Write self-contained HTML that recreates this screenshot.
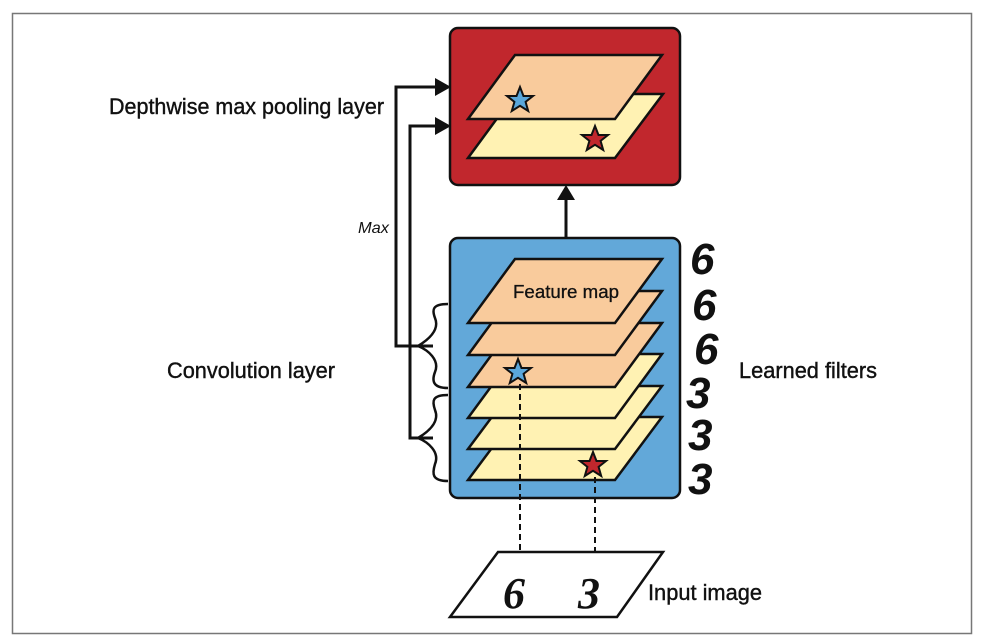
<!DOCTYPE html>
<html><head><meta charset="utf-8"><style>
html,body{margin:0;padding:0;background:#fff;}
svg{display:block;}
text{font-family:"Liberation Sans",sans-serif;fill:#111;}
</style></head><body>
<svg width="984" height="641" viewBox="0 0 984 641" xmlns="http://www.w3.org/2000/svg">
<defs>
<polygon id="star" points="0,-13 3.5,-4 13,-4 5.6,1.9 8.2,11 0,5.8 -8.2,11 -5.6,1.9 -13,-4 -3.5,-4"/>
</defs>
<rect x="12.5" y="13.5" width="959" height="620" fill="none" stroke="#777" stroke-width="1.5"/>

<!-- red box -->
<rect x="450" y="28" width="230" height="157" rx="8" fill="#c1272d" stroke="#111" stroke-width="2.5"/>
<polygon points="468,158 515,94 663,94 615,158" fill="#fff2b3" stroke="#111" stroke-width="2.5"/>
<polygon points="468,119 515,55 662,55 615,119" fill="#f9cb9c" stroke="#111" stroke-width="2.5"/>
<use href="#star" x="520" y="100" fill="#5aa7db" stroke="#111" stroke-width="2"/>
<use href="#star" x="595" y="139" fill="#c1272d" stroke="#111" stroke-width="2"/>

<!-- up arrow -->
<line x1="566" y1="238" x2="566" y2="198" stroke="#111" stroke-width="3"/>
<polygon points="557,200 566,185 575,200" fill="#111"/>

<!-- blue box -->
<rect x="450" y="238" width="230" height="260" rx="8" fill="#62a8d9" stroke="#111" stroke-width="2.5"/>
<g stroke="#111" stroke-width="2.5">
<polygon points="468,480 515,417 662,417 615,480" fill="#fff2b3"/>
<polygon points="468,449 515,386 662,386 615,449" fill="#fff2b3"/>
<polygon points="468,418 515,354 662,354 615,418" fill="#fff2b3"/>
<polygon points="468,387 515,323 662,323 615,387" fill="#f9cb9c"/>
<polygon points="468,355 515,291 662,291 615,355" fill="#f9cb9c"/>
<polygon points="468,323 515,259 662,259 615,323" fill="#f9cb9c"/>
</g>
<text x="566" y="298" font-size="18" text-anchor="middle" textLength="106" lengthAdjust="spacingAndGlyphs" stroke="#111" stroke-width="0.3">Feature map</text>
<use href="#star" x="518" y="372" fill="#5aa7db" stroke="#111" stroke-width="2"/>
<use href="#star" x="593" y="465" fill="#c1272d" stroke="#111" stroke-width="2"/>

<!-- dashed -->
<g stroke="#111" stroke-width="2" stroke-dasharray="6,4">
<line x1="520" y1="384" x2="520" y2="565"/>
<line x1="595" y1="477" x2="595" y2="565"/>
</g>

<!-- input image -->
<polygon points="498,552 663,552 617,617 450,617" fill="#fff" stroke="#111" stroke-width="2.5"/>
<text x="503" y="608" font-size="44" font-weight="bold" font-style="italic" style="font-family:'Liberation Serif',serif">6</text>
<text x="578" y="608" font-size="44" font-weight="bold" font-style="italic" style="font-family:'Liberation Serif',serif">3</text>
<text x="648" y="600" font-size="22" textLength="114" lengthAdjust="spacingAndGlyphs" stroke="#111" stroke-width="0.4">Input image</text>

<!-- connectors -->
<g fill="none" stroke="#111" stroke-width="3">
<polyline points="433,346 396,346 396,87 437,87"/>
<polyline points="433,438 410,438 410,126 437,126"/>
</g>
<polygon points="435,78 451,87 435,96" fill="#111"/>
<polygon points="435,117 451,126 435,135" fill="#111"/>

<!-- braces -->
<g fill="none" stroke="#111" stroke-width="2.5">
<path d="M448,304 C432,304 432,310 435,318 C440,330 428,340 418,346 C428,350 440,360 435,372 C432,380 432,388 448,388"/>
<path d="M448,395 C432,395 432,401 435,410 C440,422 428,432 418,438 C428,442 440,452 435,464 C432,474 432,481 448,481"/>
</g>

<!-- labels -->
<text x="109" y="114" font-size="22" textLength="275" lengthAdjust="spacingAndGlyphs" stroke="#111" stroke-width="0.4">Depthwise max pooling layer</text>
<text x="167" y="378" font-size="22" textLength="168" lengthAdjust="spacingAndGlyphs" stroke="#111" stroke-width="0.4">Convolution layer</text>
<text x="739" y="378" font-size="22" textLength="138" lengthAdjust="spacingAndGlyphs" stroke="#111" stroke-width="0.4">Learned filters</text>
<text x="358" y="233" font-size="16" font-style="italic" textLength="31" lengthAdjust="spacingAndGlyphs">Max</text>

<!-- handwritten digits -->
<g font-size="44" font-weight="bold" font-style="italic" style="font-family:'Liberation Serif',serif">
<text x="690" y="274">6</text>
<text x="692" y="320">6</text>
<text x="694" y="364">6</text>
<text x="686" y="408">3</text>
<text x="688" y="450">3</text>
<text x="688" y="494">3</text>
</g>
</svg>
</body></html>
